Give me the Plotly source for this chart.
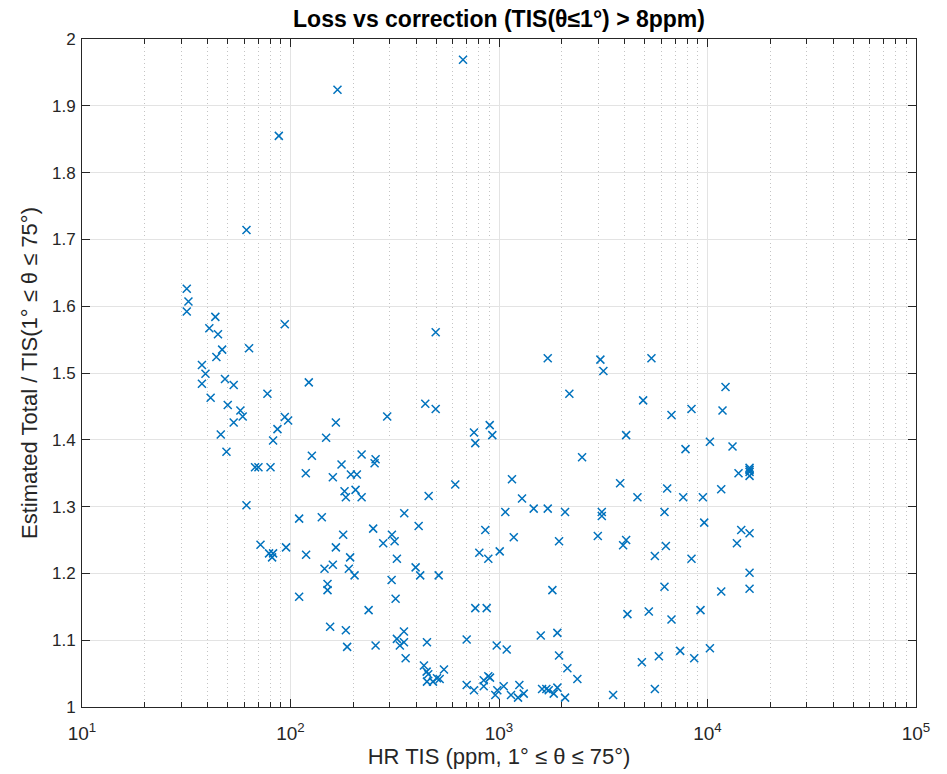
import plotly.graph_objects as go

# HR TIS (ppm, 1° ≤ θ ≤ 75°)
hr_tis = [
    672, 168, 87.9, 61.5,
    31.8, 32.4, 31.8, 43.6, 40.8, 44.9, 93.9, 497, 47.0, 44.1, 63.3, 37.6, 39.1, 37.6,
    48.5, 53.4, 122.4, 77.5, 41.4, 50.0, 57.5, 59.0, 53.4, 93.9, 97.4, 86.6, 165, 290.9,
    443, 497, 46.3, 82.5, 148.2, 49.3, 126.6, 219.3, 255.9, 253.1, 67.6, 70.2, 80.2,
    118.4, 175.7, 159.6, 194.8, 208.1, 181.6, 184.3, 205.1, 219.3, 459.8, 616.9, 61.5,
    110, 141.3, 351.2, 411.7, 249.2, 178.9, 306.4, 315.7, 278.4, 165, 193.2, 323.8,
    71.8, 78.9, 82.5, 81.6, 95.2, 118.8, 145.6, 159.6, 190.5, 202.9, 398.2, 418.9,
    513.6, 305.4, 150.5, 150.5, 110, 319.2, 236.9, 154.9, 184.3, 186.9, 255.9, 350,
    323.8, 334.6, 350, 451.3, 356.6, 699.8, 436.5, 449.8, 457.8, 451.3, 482.3, 504.1,
    519.3, 544.5, 699.8,
    1713, 3064, 3167, 5385, 2175, 4913, 6719, 8380, 758.6, 769.6, 902.5, 928.6, 4072,
    7843, 2503, 1154, 3809, 6406, 4613, 7647, 1289.5, 1072, 1467, 1713, 2074, 3112,
    3112, 6218, 859.7, 1177, 1941, 2978, 3938, 4072, 6314, 804.5, 888.6, 1008, 5592,
    8380, 1803, 6218, 769.6, 873.0, 4130, 5232, 6719, 9256, 975, 1089, 1586, 1905,
    1941, 2128, 2376, 4843, 5845, 7396, 8636, 758.6, 844.7, 844.7, 888.6, 905.4, 960,
    981.5, 1053, 1142, 1252, 1234, 1314, 1609, 1687, 1732, 1830, 1905, 2074, 3526, 5592,
    12200, 11803, 10269, 13183, 14087, 15911, 15911, 15911, 15911, 11636, 9504, 9642,
    14516, 15911, 13838, 15911, 15911, 11636, 10269,
]

# Estimated Total / TIS(1° ≤ θ ≤ 75°)
ratio = [
    1.969, 1.924, 1.855, 1.714,
    1.626, 1.607, 1.592, 1.584, 1.567, 1.558, 1.573, 1.561, 1.535, 1.524, 1.537, 1.512, 1.499, 1.484,
    1.491, 1.482, 1.486, 1.469, 1.463, 1.452, 1.444, 1.435, 1.426, 1.434, 1.429, 1.416, 1.426, 1.435,
    1.454, 1.446, 1.408, 1.399, 1.403, 1.382, 1.376, 1.378, 1.371, 1.365, 1.359, 1.359, 1.359,
    1.350, 1.363, 1.344, 1.348, 1.348, 1.323, 1.314, 1.325, 1.314, 1.316, 1.333, 1.302,
    1.282, 1.284, 1.290, 1.271, 1.267, 1.258, 1.258, 1.248, 1.245, 1.239, 1.224, 1.222,
    1.243, 1.230, 1.230, 1.224, 1.239, 1.228, 1.207, 1.213, 1.207, 1.197, 1.209, 1.197,
    1.197, 1.190, 1.184, 1.175, 1.165, 1.162, 1.145, 1.120, 1.115, 1.090, 1.092, 1.113,
    1.102, 1.092, 1.097, 1.097, 1.073, 1.101, 1.062, 1.053, 1.049, 1.038, 1.038, 1.043,
    1.042, 1.056, 1.033,
    1.522, 1.520, 1.503, 1.522, 1.469, 1.459, 1.437, 1.446, 1.411, 1.395, 1.422, 1.407, 1.407,
    1.386, 1.374, 1.341, 1.335, 1.327, 1.314, 1.314, 1.312, 1.292, 1.297, 1.297, 1.292, 1.292,
    1.286, 1.292, 1.265, 1.254, 1.248, 1.256, 1.242, 1.250, 1.241, 1.231, 1.222, 1.233, 1.226,
    1.222, 1.175, 1.180, 1.148, 1.148, 1.139, 1.143, 1.131, 1.145, 1.092, 1.086, 1.107, 1.111,
    1.077, 1.058, 1.042, 1.067, 1.076, 1.084, 1.073, 1.025, 1.040, 1.031, 1.046, 1.044, 1.018,
    1.025, 1.031, 1.018, 1.033, 1.014, 1.020, 1.027, 1.027, 1.025, 1.020, 1.029, 1.014, 1.018, 1.027,
    1.479, 1.444, 1.397, 1.390, 1.350, 1.358, 1.355, 1.352, 1.346, 1.326, 1.314, 1.276,
    1.265, 1.260, 1.245, 1.201, 1.177, 1.173, 1.088,
]

x_tick_vals = [10, 100, 1000, 10000, 100000]
x_tick_text = ["10<sup>1</sup>", "10<sup>2</sup>", "10<sup>3</sup>", "10<sup>4</sup>", "10<sup>5</sup>"]
y_tick_vals = [1.0, 1.1, 1.2, 1.3, 1.4, 1.5, 1.6, 1.7, 1.8, 1.9, 2.0]
y_tick_text = ["1", "1.1", "1.2", "1.3", "1.4", "1.5", "1.6", "1.7", "1.8", "1.9", "2"]

minor_vals = [m * 10 ** d for d in range(1, 5) for m in range(2, 10)]

FONT = "Liberation Sans, Helvetica, Arial, sans-serif"
AX = "#262626"

fig = go.Figure()
fig.add_trace(go.Scatter(
    x=hr_tis, y=ratio, mode="markers",
    marker=dict(symbol="x-thin", size=8, color="#0072BD",
                line=dict(color="#0072BD", width=1.5)),
    showlegend=False, hoverinfo="x+y",
))

fig.update_layout(
    width=947, height=774,
    margin=dict(l=82, r=31, t=39, b=67, pad=0),
    paper_bgcolor="white", plot_bgcolor="white",
    font=dict(family=FONT, color=AX, size=17),
    title=dict(text="<b>Loss vs correction (TIS(θ≤1°) > 8ppm)</b>",
               x=0.5, xref="paper", xanchor="center",
               y=1 - 19 / 774, yref="container", yanchor="middle",
               font=dict(family=FONT, size=23, color="black")),
)

fig.update_xaxes(
    type="log", range=[1, 5],
    tickmode="array", tickvals=x_tick_vals, ticktext=x_tick_text,
    ticks="inside", ticklen=8, tickwidth=1, tickcolor=AX,
    showline=True, linecolor=AX, linewidth=1, mirror="ticks",
    showgrid=True, gridcolor="#e3e3e3", gridwidth=1,
    zeroline=False,
    ticklabelstandoff=9,
    tickfont=dict(size=19, family=FONT, color=AX),
    minor=dict(tickmode="array", tickvals=minor_vals, ticks="inside", ticklen=5,
               tickcolor=AX, tickwidth=1, showgrid=True, gridcolor="#c4c4c4",
               griddash="1px,3px", gridwidth=1),
    title=dict(text="HR TIS (ppm, 1° ≤ θ ≤ 75°)", standoff=4,
               font=dict(size=22, family=FONT, color=AX)),
)

fig.update_yaxes(
    range=[1, 2],
    tickmode="array", tickvals=y_tick_vals, ticktext=y_tick_text,
    ticks="inside", ticklen=8, tickwidth=1, tickcolor=AX,
    showline=True, linecolor=AX, linewidth=1, mirror="ticks",
    showgrid=True, gridcolor="#e3e3e3", gridwidth=1,
    zeroline=False,
    ticklabelstandoff=2,
    tickfont=dict(size=17, family=FONT, color=AX),
    title=dict(text="Estimated Total / TIS(1° ≤ θ ≤ 75°)", standoff=8,
               font=dict(size=22, family=FONT, color=AX)),
)

fig.write_html("out.html")
